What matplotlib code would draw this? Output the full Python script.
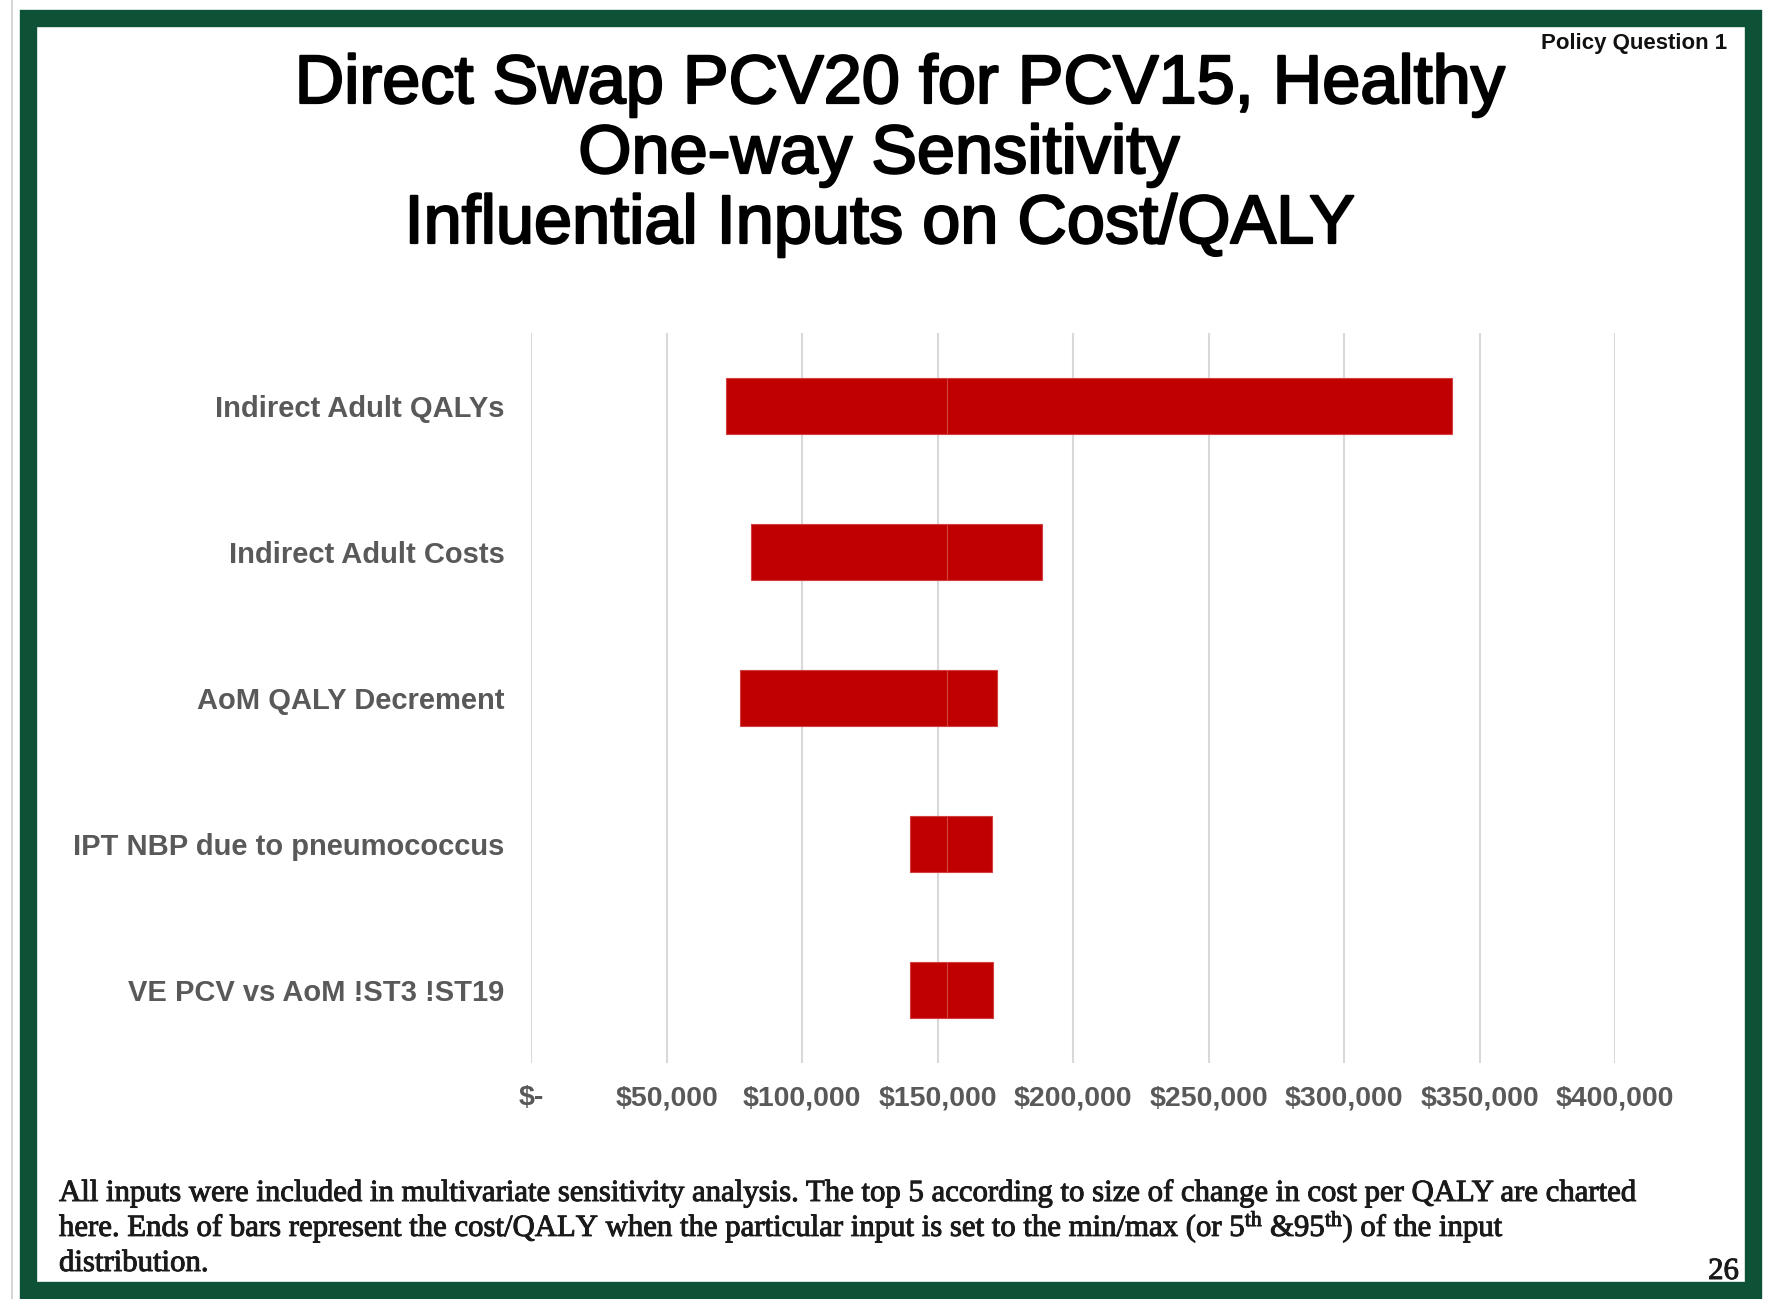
import matplotlib
matplotlib.use("Agg")
import matplotlib.pyplot as plt
import matplotlib.patheffects as pe
from matplotlib.patches import Rectangle
from matplotlib.lines import Line2D

# ---- data ----
categories = ["Indirect Adult QALYs", "Indirect Adult Costs", "AoM QALY Decrement",
              "IPT NBP due to pneumococcus", "VE PCV vs AoM !ST3 !ST19"]
low_values = [72000, 81000, 77000, 140000, 140000]
high_values = [340000, 188500, 172000, 170000, 170500]
base_value = 153500
x_ticks = [0, 50000, 100000, 150000, 200000, 250000, 300000, 350000, 400000]
x_tick_labels = ["$-", "$50,000", "$100,000", "$150,000", "$200,000", "$250,000",
                 "$300,000", "$350,000", "$400,000"]

title_lines = ["Direct Swap PCV20 for PCV15, Healthy", "One-way Sensitivity",
               "Influential Inputs on Cost/QALY"]
footnote_lines = [
    "All inputs were included in multivariate sensitivity analysis. The top 5 according to size of change in cost per QALY are charted",
    "here. Ends of bars represent the cost/QALY when the particular input is set to the min/max (or 5$^{\\rm th}$ &95$^{\\rm th}$) of the input",
    "distribution.",
]

plt.rcParams['mathtext.fontset'] = 'custom'
plt.rcParams['mathtext.rm'] = 'Liberation Serif'
plt.rcParams['mathtext.it'] = 'Liberation Serif:italic'
plt.rcParams['mathtext.bf'] = 'Liberation Serif:bold'

W, H = 1767, 1299
fig = plt.figure(figsize=(W / 100, H / 100), dpi=100)
fig.patch.set_facecolor("white")

def fx(px):
    return px / W

def fy(py):
    return 1 - py / H

# frame
fig.add_artist(Line2D([fx(12), fx(12)], [0, 1], color="#cfcfcf", lw=1.2))
fig.add_artist(Rectangle((fx(28), fy(1290)), fx(1753) - fx(28), fy(18) - fy(1290),
                         fill=False, edgecolor="#0d5237", lw=12.5, joinstyle="miter"))

# axes
ax = fig.add_axes([fx(531), fy(1063), fx(1615) - fx(531), fy(333) - fy(1063)])
ypos = list(range(len(categories)))
bar_color = "#c00000"
lefts1 = [lo for lo in low_values]
widths1 = [base_value - lo for lo in low_values]
lefts2 = [base_value for _ in high_values]
widths2 = [hi - base_value for hi in high_values]
ax.barh(ypos, widths1, left=lefts1, height=0.39, color=bar_color,
        edgecolor="#d24040", linewidth=0.8, zorder=3)
ax.barh(ypos, widths2, left=lefts2, height=0.39, color=bar_color,
        edgecolor="#d24040", linewidth=0.8, zorder=3)
ax.set_xlim(0, 400000)
ax.set_ylim(len(categories) - 0.5, -0.5)
ax.set_yticks(ypos)
ax.set_yticklabels(categories, fontsize=21, fontweight="bold", color="#595959",
                   family="Liberation Sans")
ax.set_xticks(x_ticks)
ax.set_xticklabels(x_tick_labels, fontsize=20.5, fontweight="bold", color="#595959",
                   family="Liberation Sans")
ax.tick_params(axis="y", length=0, pad=19)
ax.tick_params(axis="x", length=0, pad=16)
ax.grid(axis="x", color="#d9d9d9", lw=1.5, zorder=0)
ax.set_axisbelow(True)
for s in ax.spines.values():
    s.set_visible(False)

# title
title_centers = [900, 879, 880]
title_baselines = [103, 173, 243]
for t, cx, by in zip(title_lines, title_centers, title_baselines):
    fig.text(fx(cx), fy(by), t, ha="center", va="baseline", fontsize=49.3,
             family="Liberation Sans", color="black",
             path_effects=[pe.withStroke(linewidth=1.6, foreground="black")])

fig.text(fx(1727), fy(43), "Policy Question 1", ha="right", va="center",
         fontsize=16, fontweight="bold", family="Liberation Sans", color="#111111")

# footnote
foot_baselines = [1201, 1236, 1271]
renderer = fig.canvas.get_renderer()
probe = fig.text(0, 0, footnote_lines[0], fontsize=20, family="Liberation Serif")
wpx = probe.get_window_extent(renderer).width
probe.remove()
fsize = 20 * 1578 / wpx
for t, by in zip(footnote_lines, foot_baselines):
    fig.text(fx(59), fy(by), t, ha="left", va="baseline", fontsize=fsize,
             family="Liberation Serif", color="#1a1a1a",
             path_effects=[pe.withStroke(linewidth=0.7, foreground="#1a1a1a")])

fig.text(fx(1739), fy(1279), "26", ha="right", va="baseline", fontsize=fsize,
         family="Liberation Serif", color="#1a1a1a",
         path_effects=[pe.withStroke(linewidth=0.7, foreground="#1a1a1a")])

fig.savefig("out.png", dpi=100, facecolor="white")
